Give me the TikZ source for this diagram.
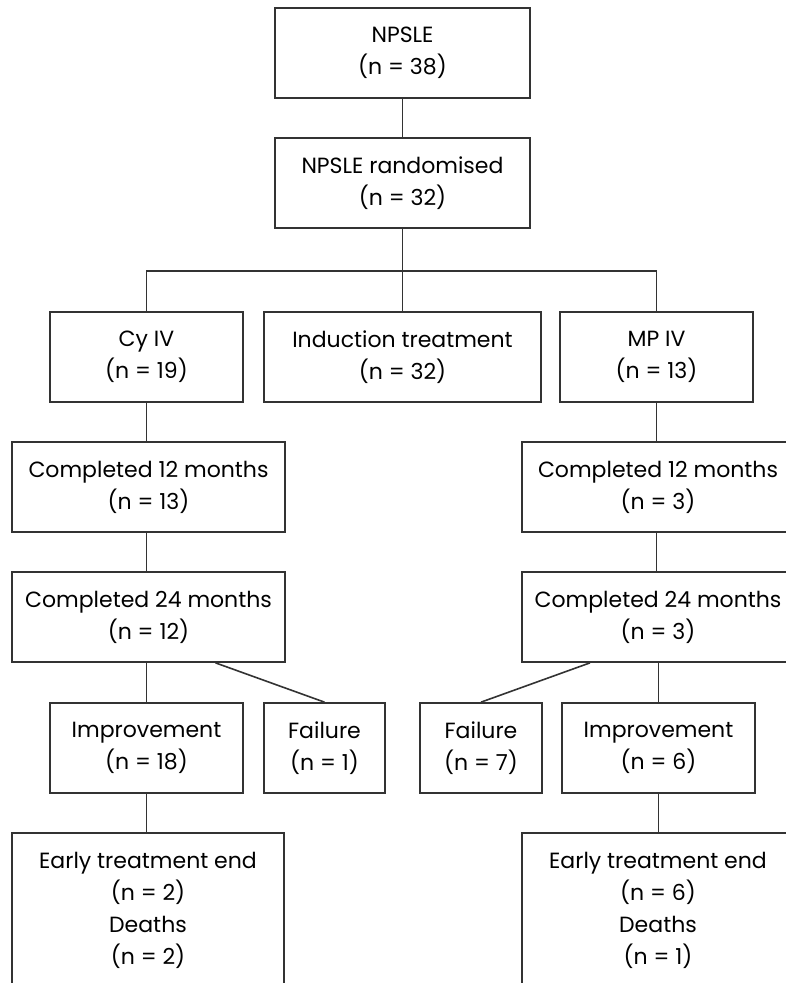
\documentclass[tikz,border=0pt]{standalone}
\usepackage{fontspec}
\setmainfont{Poppins}
\begin{document}
\begin{tikzpicture}[x=1pt,y=-1pt,
  box/.style={draw=linegray, line width=1.7pt, align=center, inner sep=0pt,
    font=\fontsize{22}{32}\selectfont, text=black},
  link/.style={draw=linegray, line width=1.6pt}]
\definecolor{linegray}{HTML}{333333}
\useasboundingbox (0,0) rectangle (786,983);
\clip (0,0) rectangle (786,983);
\node[box, minimum width=255pt, minimum height=90pt] (n1) at (402.5,53) {NPSLE\\(n = 38)};
\node[box, minimum width=255pt, minimum height=90pt] (n2) at (402.5,183) {NPSLE randomised\\(n = 32)};
\node[box, minimum width=193pt, minimum height=90pt] (cy) at (146.5,357) {Cy IV\\(n = 19)};
\node[box, minimum width=277pt, minimum height=90pt] (ind) at (402.5,357) {Induction treatment\\(n = 32)};
\node[box, minimum width=193pt, minimum height=90pt] (mp) at (656.5,357) {MP IV\\(n = 13)};
\node[box, minimum width=273pt, minimum height=90pt] (cl12) at (148.5,487) {Completed 12 months\\(n = 13)};
\node[box, minimum width=272pt, minimum height=90pt] (cr12) at (658,487) {Completed 12 months\\(n = 3)};
\node[box, minimum width=273pt, minimum height=90pt] (cl24) at (148.5,617) {Completed 24 months\\(n = 12)};
\node[box, minimum width=272pt, minimum height=90pt] (cr24) at (658,617) {Completed 24 months\\(n = 3)};
\node[box, minimum width=193pt, minimum height=90pt] (il) at (146.5,748) {Improvement\\(n = 18)};
\node[box, minimum width=121pt, minimum height=90pt] (fl) at (324.5,748) {Failure\\(n = 1)};
\node[box, minimum width=122pt, minimum height=90pt] (fr) at (481,748) {Failure\\(n = 7)};
\node[box, minimum width=193pt, minimum height=90pt] (ir) at (658.5,748) {Improvement\\(n = 6)};
\node[box, minimum width=272pt, minimum height=154pt] (el) at (148,910) {Early treatment end\\(n = 2)\\Deaths\\(n = 2)};
\node[box, minimum width=272pt, minimum height=154pt] (er) at (658,910) {Early treatment end\\(n = 6)\\Deaths\\(n = 1)};
\coordinate (bar) at (402.5,271);
\draw[link] (n1.south) -- (n2.north);
\draw[link] (n2.south) -- (ind.north);
\draw[link] (cy.north) |- (bar) -| (mp.north);
\draw[link] (cy.south) -- (cl12.north -| cy.south);
\draw[link] (mp.south) -- (cr12.north -| mp.south);
\draw[link] (cl12.south -| cy.south) -- (cl24.north -| cy.south);
\draw[link] (cr12.south -| mp.south) -- (cr24.north -| mp.south);
\draw[link] (cl24.south -| il.north) -- (il.north);
\draw[link] ([xshift=67pt]cl24.south) -- (fl.north);
\draw[link] (cr24.south -| ir.north) -- (ir.north);
\draw[link] ([xshift=-68pt]cr24.south) -- (fr.north);
\draw[link] (il.south) -- (el.north -| il.south);
\draw[link] (ir.south) -- (er.north -| ir.south);
\end{tikzpicture}
\end{document}
